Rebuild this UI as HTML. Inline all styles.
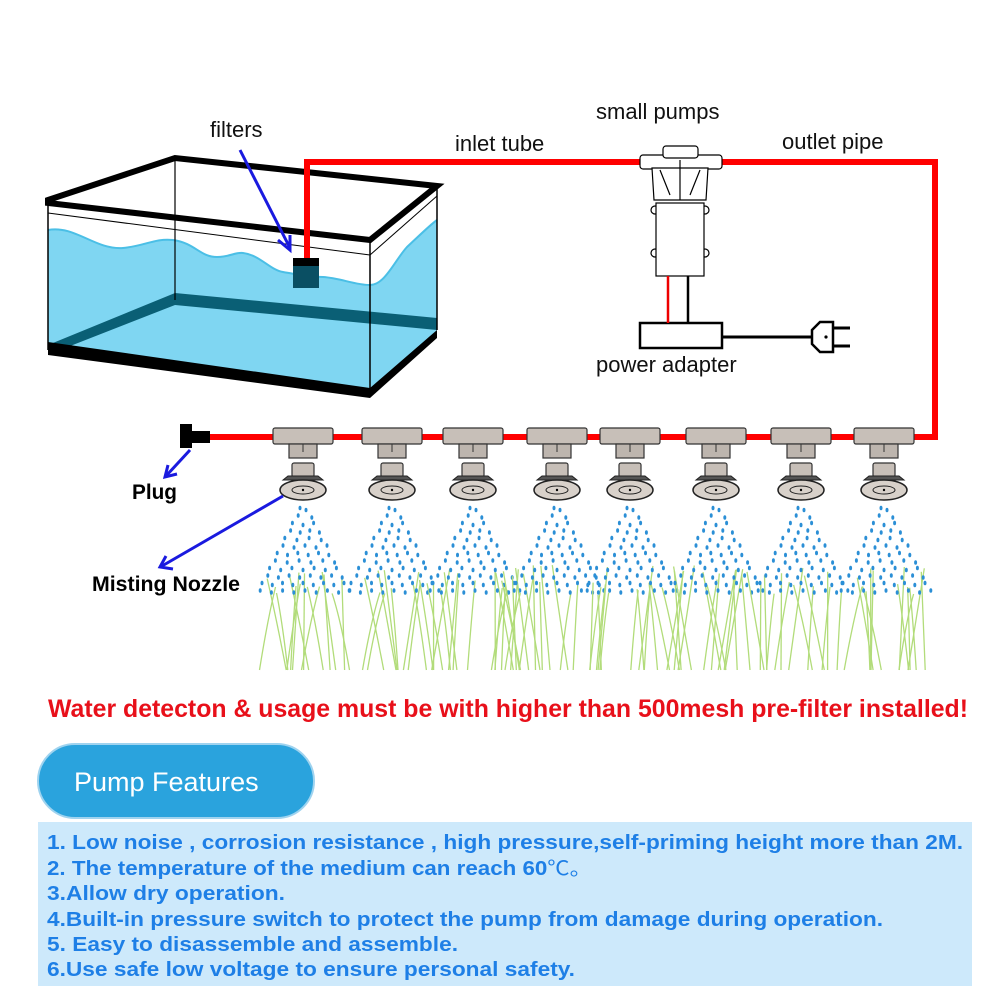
<!DOCTYPE html>
<html><head><meta charset="utf-8"><style>
html,body{margin:0;padding:0;background:#fff;}
svg{display:block;}
text{font-family:"Liberation Sans","Noto Sans CJK SC",sans-serif;}
</style></head><body>
<svg id="s" width="1000" height="1000" viewBox="0 0 1000 1000" xmlns="http://www.w3.org/2000/svg">
<!-- tank -->
<path d="M48,230 C75,225 95,250 123,248 C145,246 155,238 173,240 C195,243 200,257 217,257 C230,257 235,252 243,253 C260,255 270,270 283,272 C300,275 310,277 323,277 C340,278 355,285 370,285 C385,285 395,260 407,247 C420,235 430,225 437,220 L437,330 L370,395 L48,350 Z" fill="#7fd6f2"/>
<path d="M48,230 C75,225 95,250 123,248 C145,246 155,238 173,240 C195,243 200,257 217,257 C230,257 235,252 243,253 C260,255 270,270 283,272 C300,275 310,277 323,277 C340,278 355,285 370,285 C385,285 395,260 407,247 C420,235 430,225 437,220" fill="none" stroke="#4bbfe6" stroke-width="2"/>
<polygon points="48,345 175,293 437,318 437,330 175,305 60,350" fill="#0a5f75"/>
<line x1="175" y1="158" x2="175" y2="300" stroke="#000" stroke-width="1.2"/>
<line x1="48" y1="213" x2="370" y2="255" stroke="#000" stroke-width="1"/>
<line x1="370" y1="255" x2="437" y2="196" stroke="#000" stroke-width="1"/>
<line x1="48" y1="203" x2="48" y2="350" stroke="#000" stroke-width="1.5"/>
<line x1="370" y1="240" x2="370" y2="395" stroke="#000" stroke-width="1.5"/>
<line x1="437" y1="186" x2="437" y2="330" stroke="#000" stroke-width="1.5"/>
<polygon points="48,200 175,158 437,186 370,240 48,203" fill="none" stroke="#000" stroke-width="6" stroke-linejoin="miter"/>
<polygon points="48,342 370,388 437,330 437,338 370,398 48,355" fill="#000"/>
<rect x="293" y="258" width="26" height="30" fill="#0a4f63"/>
<rect x="293" y="258" width="26" height="8" fill="#000"/>
<!-- red pipe -->
<polyline points="307,258 307,162 640,162" fill="none" stroke="#f00" stroke-width="6"/>
<polyline points="720,162 935,162 935,437 205,437" fill="none" stroke="#f00" stroke-width="6"/>
<!-- pump -->
<g stroke="#000" stroke-width="1.2" fill="#fff">
<rect x="640" y="155" width="82" height="14" rx="3"/>
<rect x="663" y="146" width="35" height="12" rx="3"/>
<path d="M652,168 L708,168 L706,200 L654,200 Z"/>
<path d="M660,170 L670,195 M700,170 L690,195 M680,160 L680,200" fill="none"/>
<circle cx="655" cy="210" r="4"/><circle cx="705" cy="210" r="4"/>
<circle cx="655" cy="253" r="4"/><circle cx="705" cy="253" r="4"/>
<rect x="656" y="203" width="48" height="73"/>
<rect x="640" y="323" width="82" height="25" stroke-width="2.5"/>
</g>
<line x1="668" y1="276" x2="668" y2="323" stroke="#e00" stroke-width="2.5"/>
<line x1="688" y1="276" x2="688" y2="323" stroke="#000" stroke-width="2.5"/>
<line x1="722" y1="337" x2="812" y2="337" stroke="#000" stroke-width="3"/>
<path d="M812,330 L820,322 L833,322 L833,352 L820,352 L812,344 Z" fill="#fff" stroke="#000" stroke-width="2.5"/>
<line x1="833" y1="328" x2="850" y2="328" stroke="#000" stroke-width="3"/>
<line x1="833" y1="346" x2="850" y2="346" stroke="#000" stroke-width="3"/>
<circle cx="826" cy="337" r="1.6"/>
<!-- plug -->
<rect x="180" y="424" width="12" height="24" fill="#000"/>
<rect x="190" y="431" width="20" height="12" fill="#000"/>
<g id="spray"></g>
<g id="noz"></g>
<!-- arrows -->
<g stroke="#1a1adf" stroke-width="3" fill="none">
<line x1="240" y1="150" x2="290" y2="248"/><polyline points="278,240 290,250 290,235"/>
<line x1="190" y1="450" x2="166" y2="476"/><polyline points="168,465 165,477 177,474"/>
<line x1="283" y1="496" x2="162" y2="566"/><polyline points="166,556 160,567 173,569"/>
</g>
<!-- labels -->
<g font-size="22" fill="#111">
<text x="210" y="137">filters</text>
<text x="455" y="151">inlet tube</text>
<text x="596" y="119">small pumps</text>
<text x="782" y="149">outlet pipe</text>
<text x="596" y="372">power adapter</text>
</g>
<text x="132" y="499" font-size="21" font-weight="bold" textLength="45" lengthAdjust="spacingAndGlyphs">Plug</text>
<text x="92" y="591" font-size="21" font-weight="bold" textLength="148" lengthAdjust="spacingAndGlyphs">Misting Nozzle</text>
<text x="48" y="717" font-size="25" font-weight="bold" fill="#e8101a" textLength="920" lengthAdjust="spacingAndGlyphs">Water detecton &amp; usage must be with higher than 500mesh pre-filter installed!</text>
<!-- features -->
<rect x="38" y="744" width="276" height="74" rx="37" fill="#2aa3dd" stroke="#9fd3ef" stroke-width="2"/>
<text x="74" y="791" font-size="27" fill="#fff">Pump Features</text>
<rect x="38" y="822" width="934" height="164" fill="#cde9fb"/>
<g font-size="20" font-weight="bold" fill="#1e7fe6">
<text x="47" y="849" textLength="916" lengthAdjust="spacingAndGlyphs">1. Low noise , corrosion resistance , high pressure,self-priming height more than 2M.</text>
<text x="47" y="875" textLength="545" lengthAdjust="spacingAndGlyphs">2.  The temperature of the medium can reach 60<tspan font-weight="normal">℃。</tspan></text>
<text x="47" y="900" textLength="238" lengthAdjust="spacingAndGlyphs">3.Allow dry operation.</text>
<text x="47" y="926" textLength="836" lengthAdjust="spacingAndGlyphs">4.Built-in pressure switch to protect the pump from damage during operation.</text>
<text x="47" y="951" textLength="411" lengthAdjust="spacingAndGlyphs">5. Easy to disassemble and assemble.</text>
<text x="47" y="976" textLength="528" lengthAdjust="spacingAndGlyphs">6.Use safe low voltage to ensure personal safety.</text>
</g>
</svg>
<script>
var NS="http://www.w3.org/2000/svg";
function el(p,t,a){var e=document.createElementNS(NS,t);for(var k in a)e.setAttribute(k,a[k]);p.appendChild(e);return e;}
var cx=[303,392,473,557,630,716,801,884];
var noz=document.getElementById('noz'),sp=document.getElementById('spray');
var seed=3;function r(){seed=(seed*9301+49297)%233280;return seed/233280;}
cx.forEach(function(c){
 for(var i=0;i<13;i++){var x0=c-45+r()*90,x1=x0+(r()-0.5)*40,y1=565+r()*30;
  el(sp,'path',{d:'M'+x0.toFixed(1)+',670 Q'+((x0+x1)/2).toFixed(1)+',620 '+x1.toFixed(1)+','+y1.toFixed(1),stroke:'#b2dc7a','stroke-width':'1.3',fill:'none'});}
 for(var row=0;row<12;row++){var y=508+row*7.5,half=3+row*3.8,n=2+Math.floor(row*0.7);
  for(var j=0;j<n;j++){var x=c-half+(2*half)*(j/(n-1))+(row%2?2:0);
   el(sp,'ellipse',{cx:x.toFixed(1),cy:(y+(j%2)*2).toFixed(1),rx:'1.5',ry:'2.3',fill:'#2b8fd6'});}}
 el(noz,'rect',{x:c-30,y:428,width:60,height:16,rx:2,fill:'#c7bfb8',stroke:'#333','stroke-width':1.2});
 el(noz,'rect',{x:c-14,y:444,width:28,height:14,fill:'#bdb5ae',stroke:'#333','stroke-width':1.2});
 el(noz,'line',{x1:c,y1:444,x2:c,y2:452,stroke:'#333'});
 el(noz,'rect',{x:c-11,y:463,width:22,height:14,rx:2,fill:'#c7bfb8',stroke:'#333','stroke-width':1.2});
 el(noz,'path',{d:'M'+(c-20)+',480 L'+(c-15)+',476 L'+(c+15)+',476 L'+(c+20)+',480 Z',fill:'#555',stroke:'#222'});
 el(noz,'ellipse',{cx:c,cy:490,rx:23,ry:10,fill:'#d8d1ca',stroke:'#222','stroke-width':1.5});
 el(noz,'ellipse',{cx:c,cy:490,rx:11,ry:4,fill:'none',stroke:'#222'});
 el(noz,'circle',{cx:c,cy:490,r:1.2,fill:'#000'});
});
</script>
</body></html>
